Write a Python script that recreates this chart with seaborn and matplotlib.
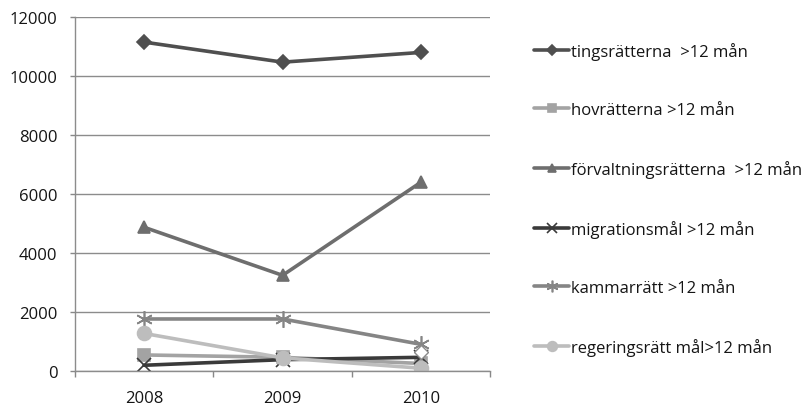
import matplotlib
matplotlib.use("Agg")
import matplotlib.pyplot as plt
import seaborn as sns
import pandas as pd
from matplotlib.ticker import FixedLocator, NullFormatter

years = ["2008", "2009", "2010"]

tingsratterna = [11150, 10470, 10800]
hovratterna = [540, 460, 250]
forvaltningsratterna = [4870, 3240, 6400]
migrationsmal = [190, 380, 460]
kammarratt = [1760, 1760, 900]
regeringsratt = [1270, 440, 90]
extra_2010 = [640]

series_names = [
    "tingsrätterna  >12 mån",
    "hovrätterna >12 mån",
    "förvaltningsrätterna  >12 mån",
    "migrationsmål >12 mån",
    "kammarrätt >12 mån",
    "regeringsrätt mål>12 mån",
]
series_values = [tingsratterna, hovratterna, forvaltningsratterna,
                 migrationsmal, kammarratt, regeringsratt]

colors = ["#4f4f4f", "#a3a3a3", "#6e6e6e", "#3a3a3a", "#858585", "#bdbdbd"]
markers = ["D", "s", "^", "x", (6, 2, 0), "o"]
msizes = [7, 9, 9, 10, 12, 10]

rows = []
for name, vals in zip(series_names, series_values):
    for i, (yr, v) in enumerate(zip(years, vals)):
        rows.append({"serie": name, "pos": i, "year": yr, "value": v})
df = pd.DataFrame(rows)

sns.set_theme(style="white")
plt.rcParams["font.family"] = ["Open Sans", "DejaVu Sans"]
text_color = "#151515"

fig = plt.figure(figsize=(8.05, 4.1), dpi=100)
ax = fig.add_axes([0.093, 0.093, 0.516, 0.863])

for name, c, m, ms in zip(series_names, colors, markers, msizes):
    sub = df[df["serie"] == name]
    sns.lineplot(data=sub, x="pos", y="value", ax=ax, color=c, lw=2.6,
                 marker=m, markersize=ms, markeredgecolor=c,
                 markeredgewidth=1.2, label=name)

# stray open diamond at 2010
ax.plot([len(years) - 1], extra_2010, linestyle="none", marker="D",
        markersize=7, markerfacecolor="white", markeredgecolor="#8a8a8a",
        markeredgewidth=1.0, zorder=5)

ax.set_xlim(-0.5, len(years) - 0.5)
ax.set_ylim(0, 12000)
ax.set_yticks(range(0, 12001, 2000))
ax.set_xticks(range(len(years)))
ax.set_xticklabels(years)
ax.xaxis.set_minor_locator(FixedLocator([i - 0.5 for i in range(len(years) + 1)]))
ax.xaxis.set_minor_formatter(NullFormatter())
ax.tick_params(axis="x", which="major", length=0, pad=14, labelsize=12,
               colors=text_color)
ax.tick_params(axis="x", which="minor", length=4, width=1, color="#888888",
               direction="out", bottom=True)
ax.tick_params(axis="y", length=3.6, width=1, color="#888888", direction="out",
               left=True, pad=9, labelsize=12, labelcolor=text_color)
ax.grid(axis="y", color="#8c8c8c", lw=1)
ax.grid(axis="x", visible=False)
ax.set_axisbelow(True)
for s in ["top", "right"]:
    ax.spines[s].set_visible(False)
ax.spines["left"].set_color("#8c8c8c")
ax.spines["bottom"].set_color("#8c8c8c")
ax.spines["left"].set_linewidth(1)
ax.spines["bottom"].set_linewidth(1)
ax.set_xlabel("")
ax.set_ylabel("")

leg = ax.legend(loc="upper left", bbox_to_anchor=(1.09, 0.949), frameon=False,
                fontsize=12, labelspacing=2.52, handlelength=2.1, handletextpad=0.1,
                markerscale=0.7, borderaxespad=0)
for t in leg.get_texts():
    t.set_color(text_color)

fig.savefig("out.png", dpi=100, facecolor="white")
